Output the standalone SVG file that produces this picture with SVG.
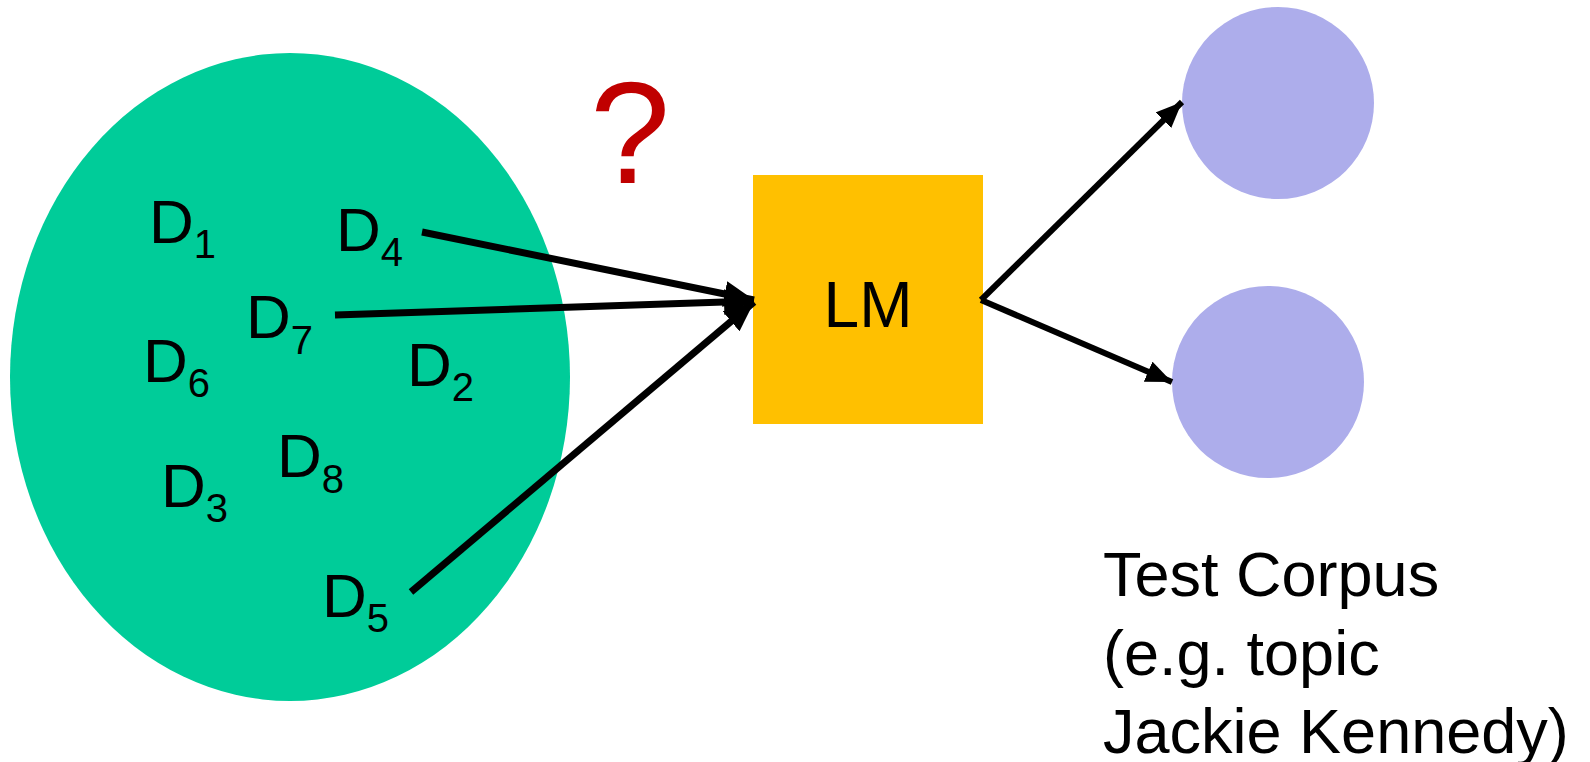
<svg xmlns="http://www.w3.org/2000/svg" width="1590" height="762" viewBox="0 0 1590 762">
<style>
text{font-family:"Liberation Sans",Arial,sans-serif;fill:#000}
.d{font-size:62px}
.s{font-size:40px}
.c{stroke:#000;fill:none;stroke-linecap:butt}
</style>
<defs>
<marker id="ah" markerUnits="userSpaceOnUse" markerWidth="32" markerHeight="26" refX="30" refY="13" orient="auto">
<path d="M0,0 L30,13 L0,26 Z" fill="#000"/>
</marker>
<marker id="ah2" markerUnits="userSpaceOnUse" markerWidth="28" markerHeight="22" refX="26" refY="11" orient="auto">
<path d="M0,0 L26,11 L0,22 Z" fill="#000"/>
</marker>
</defs>
<rect width="1590" height="762" fill="#fff"/>
<g id="corpus">
<ellipse cx="290" cy="377" rx="280" ry="324" fill="#00CC99"/>
</g>
<g id="docs">
<text class="d" x="149" y="243">D<tspan class="s" dy="15">1</tspan></text>
<text class="d" x="336" y="251">D<tspan class="s" dy="15">4</tspan></text>
<text class="d" x="246" y="338">D<tspan class="s" dy="16">7</tspan></text>
<text class="d" x="143" y="382">D<tspan class="s" dy="15">6</tspan></text>
<text class="d" x="407" y="386">D<tspan class="s" dy="15">2</tspan></text>
<text class="d" x="277" y="477">D<tspan class="s" dy="16">8</tspan></text>
<text class="d" x="161" y="507">D<tspan class="s" dy="15">3</tspan></text>
<text class="d" x="322" y="617">D<tspan class="s" dy="15">5</tspan></text>
</g>
<g id="question">
<text x="630" y="183" text-anchor="middle" style="font-size:144px;fill:#C00000">?</text>
</g>
<g id="lm">
<rect x="753" y="175" width="230" height="249" fill="#FFC000"/>
<text x="868" y="327" text-anchor="middle" style="font-size:64px">LM</text>
</g>
<g id="test1">
<circle cx="1278" cy="103" r="96" fill="#ADADEB"/>
</g>
<g id="test2">
<circle cx="1268" cy="382" r="96" fill="#ADADEB"/>
</g>
<g id="label">
<text x="1103" y="596" style="font-size:63px">Test Corpus</text>
<text x="1103" y="675" style="font-size:63px">(e.g. topic</text>
<text x="1103" y="753" style="font-size:63px">Jackie Kennedy)</text>
</g>
<g id="connectors">
<line class="c" x1="422" y1="232" x2="754" y2="300" stroke-width="7" marker-end="url(#ah)"/>
<line class="c" x1="335" y1="315" x2="754" y2="301" stroke-width="7" marker-end="url(#ah)"/>
<line class="c" x1="411" y1="592" x2="754" y2="302" stroke-width="7" marker-end="url(#ah)"/>
<line class="c" x1="981" y1="300" x2="1182" y2="102" stroke-width="6" marker-end="url(#ah2)"/>
<line class="c" x1="981" y1="300" x2="1172" y2="382" stroke-width="6" marker-end="url(#ah2)"/>
</g>
</svg>
